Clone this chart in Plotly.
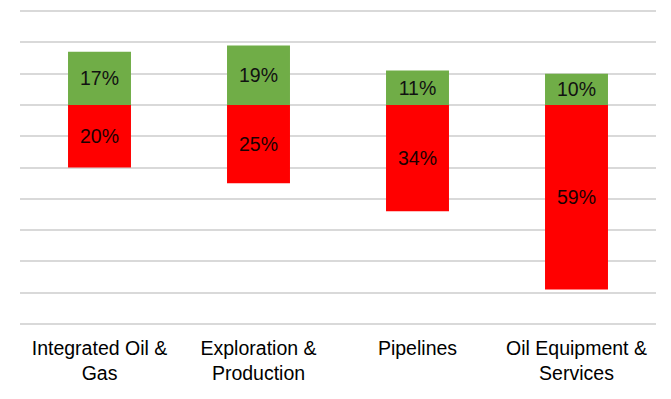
import plotly.graph_objects as go

categories = ["Integrated Oil &<br>Gas", "Exploration &<br>Production", "Pipelines", "Oil Equipment &<br>Services"]
positive_pct = [17, 19, 11, 10]
negative_pct = [20, 25, 34, 59]
grid_ticks = [30, 20, 10, 0, -10, -20, -30, -40, -50, -60, -70]

fig = go.Figure()
fig.add_trace(go.Bar(
    x=categories, y=positive_pct,
    marker=dict(color="#70AD47", line=dict(width=0)),
    text=[f"{v}%" for v in positive_pct],
    textposition="inside", insidetextanchor="middle",
    textfont=dict(family="Liberation Sans, Arial, sans-serif", size=19.5, color="#111111"),
    constraintext="none", hoverinfo="skip",
))
fig.add_trace(go.Bar(
    x=categories, y=[-v for v in negative_pct],
    marker=dict(color="#FF0000", line=dict(width=0)),
    text=[f"{v}%" for v in negative_pct],
    textposition="inside", insidetextanchor="middle",
    textfont=dict(family="Liberation Sans, Arial, sans-serif", size=19.5, color="#1a0000"),
    constraintext="none", hoverinfo="skip",
))

fig.update_layout(
    width=671, height=399,
    margin=dict(l=20, r=14.5, t=8.5, b=73),
    barmode="relative", bargap=0.604,
    plot_bgcolor="white", paper_bgcolor="white",
    showlegend=False,
    font=dict(family="Liberation Sans, Arial, sans-serif", color="#000000"),
)
fig.update_yaxes(
    range=[-70.7, 30.7], tickvals=grid_ticks, showticklabels=False,
    showgrid=True, gridcolor="#d9d9d9", gridwidth=1.5,
    zeroline=False, showline=False, automargin=False,
)
fig.update_xaxes(
    showline=False, showgrid=False, ticks="",
    tickfont=dict(family="Liberation Sans, Arial, sans-serif", size=19.5, color="#000000"),
    ticklabelstandoff=8, automargin=False,
)

fig.write_html("out.html", config={"displayModeBar": False},
               post_script="document.body.style.margin='0';")
